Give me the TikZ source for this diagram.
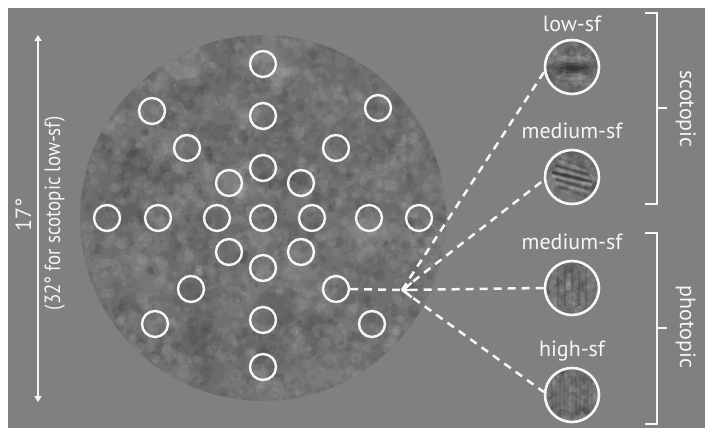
\documentclass[tikz,border=0pt]{standalone}
\usepackage{fontspec}
\setmainfont{PT Sans}
\usetikzlibrary{arrows.meta}
\definecolor{panelgray}{RGB}{128,128,128}
\definecolor{discgray}{RGB}{112,112,112}
\definecolor{inkwhite}{RGB}{246,246,246}
\begin{document}
\begin{tikzpicture}[x=1pt,y=-1pt,
    ring/.style={circle,draw=inkwhite,line width=2.4pt,minimum size=26pt,inner sep=0pt},
    patch/.style={circle,draw=inkwhite,line width=2.6pt,minimum size=54pt,inner sep=0pt},
    patchname/.style={text=inkwhite,font=\fontsize{22}{26}\selectfont,anchor=base,inner sep=0pt},
    sidetext/.style={text=inkwhite,font=\fontsize{22}{26}\selectfont,anchor=base,inner sep=0pt},
    dashes/.style={inkwhite,line width=2.5pt,dash pattern=on 8pt off 6pt},
    brace/.style={inkwhite,line width=2.5pt}]
    \useasboundingbox (0,0) rectangle (714,438);
    \fill[white] (0,0) rectangle (714,438);
    \fill[panelgray] (8,8) rectangle (705,428);
    \fill[discgray] (263,218) circle[radius=183pt];
    \begin{scope}
        \clip (263,218) circle[radius=183pt];
        \pgfmathsetseed{11}
        \foreach \i in {1,...,260}{
            \pgfmathsetmacro\ba{360*rnd}
            \pgfmathsetmacro\bd{195*sqrt(rnd)}
            \pgfmathsetmacro\br{8+14*rnd}
            \ifodd\i \def\blobcol{black}\else\def\blobcol{white}\fi
            \fill[\blobcol,opacity=0.045]
            ({263+\bd*cos(\ba)},{218+\bd*sin(\ba)}) circle[radius=\br pt]
            ;
        }
        \foreach \i in {1,...,1800}{
            \pgfmathsetmacro\ba{360*rnd}
            \pgfmathsetmacro\bd{188*sqrt(rnd)}
            \pgfmathsetmacro\br{1.5+5*rnd}
            \ifodd\i \def\blobcol{black}\else\def\blobcol{white}\fi
            \fill[\blobcol,opacity=0.06]
            ({263+\bd*cos(\ba)},{218+\bd*sin(\ba)}) circle[radius=\br pt]
            ;
        }
    \end{scope}
    \foreach \n/\x/\y in {a/263/64,b/152/111,c/378/108,d/263/116,e/187/148,f/336/148,
        g/263/168,h/229/183,i/301/183,j/107/218,k/158/218,l/217/218,m/263/218,
        n/312/218,o/369/218,p/419/218,q/229/252,r/301/252,s/263/268,t/191/289,
        u/336/289,v/155/324,w/263/320,x/372/324,y/263/367}
        \node[ring] (r\n) at (\x,\y) {};
    \coordinate (c1) at (572,67);
    \coordinate (c2) at (572,177);
    \coordinate (c3) at (572,288);
    \coordinate (c4) at (572,395);
    \foreach \c in {c1,c2,c3,c4}{
        \begin{scope}[shift={(\c)}]
            \clip (0,0) circle[radius=26pt];
            \fill[discgray] (0,0) circle[radius=26pt];
            \foreach \j in {1,...,120}{
                \pgfmathsetmacro\ba{360*rnd}
                \pgfmathsetmacro\bd{27*sqrt(rnd)}
                \pgfmathsetmacro\br{1.5+3*rnd}
                \ifodd\j \def\blobcol{black}\else\def\blobcol{white}\fi
                \fill[\blobcol,opacity=0.07]
                ({\bd*cos(\ba)},{\bd*sin(\ba)}) circle[radius=\br pt]
                ;
            }
        \end{scope}
    }
    \begin{scope}[shift={(c1)}]
        \clip (0,0) circle[radius=26pt];
        \fill[black,opacity=.1] (0,0) ellipse[x radius=6pt,y radius=22pt];
        \fill[black,opacity=.12] (0,1) ellipse[x radius=22pt,y radius=9pt];
        \fill[black,opacity=.2] (0,1) ellipse[x radius=18pt,y radius=5pt];
        \fill[black,opacity=.25] (0,1) ellipse[x radius=13pt,y radius=2.5pt];
        \fill[white,opacity=.12] (0,-8) ellipse[x radius=16pt,y radius=3.5pt];
        \fill[white,opacity=.12] (0,10) ellipse[x radius=16pt,y radius=3.5pt];
    \end{scope}
    \begin{scope}[shift={(c2)}]
        \clip (0,0) circle[radius=26pt];
        \foreach \k/\op in {-2/.14,-1/.28,0/.4,1/.28,2/.14}{
            \draw[black,opacity=\op,line width=2.6pt,line cap=round]
            ({-19+3*abs(\k)},{\k*7-4.5}) -- ({19-3*abs(\k)},{\k*7+4.5})
            ;
            \draw[white,opacity=\op*.5,line width=2.2pt,line cap=round]
            ({-19+3*abs(\k)},{\k*7-1}) -- ({19-3*abs(\k)},{\k*7+8})
            ;
        }
    \end{scope}
    \begin{scope}[shift={(c3)}]
        \clip (0,0) circle[radius=26pt];
        \foreach \k in {-2,...,2}
            \draw[black,opacity=.12,line width=2.5pt] (\k*7,-18) -- (\k*7,18);
    \end{scope}
    \begin{scope}[shift={(c4)}]
        \clip (0,0) circle[radius=26pt];
        \foreach \k in {-5,...,5}
            \draw[black,opacity=.07,line width=1.5pt] (\k*4,-20) -- (\k*4,20);
    \end{scope}
    \node[patch] (p1) at (c1) {};
    \node[patch] (p2) at (c2) {};
    \node[patch] (p3) at (c3) {};
    \node[patch] (p4) at (c4) {};
    \node[patchname] (n1) at (572,32) {low-sf};
    \node[patchname] (n2) at (572,139) {medium-sf};
    \node[patchname] (n3) at (572,250) {medium-sf};
    \node[patchname] (n4) at (572,356) {high-sf};
    \coordinate (tip) at (402,290);
    \coordinate (barb) at (412,290);
    \draw[dashes]
    (ru.east) -- (tip)
    ;
    \draw[dashes]
    (p3.west) -- (tip)
    ;
    \draw[inkwhite,line width=2.3pt,-{Straight Barb[length=8pt,width=15pt]}]
    (barb) -- (tip)
    ;
    \draw[dashes]
    (tip) -- (p1.190)
    ;
    \draw[dashes]
    (tip) -- (p2.186)
    ;
    \draw[dashes]
    (tip) -- (p4.174)
    ;
    \draw[brace]
    (645,13) -- (657,13) -- (657,204) -- (645,204)
    ;
    \draw[brace]
    (657,108) -- (667,108)
    ;
    \node[sidetext,rotate=-90] (scot) at (680,109) {scotopic};
    \draw[brace]
    (645,233) -- (657,233) -- (657,424) -- (645,424)
    ;
    \draw[brace]
    (657,328) -- (667,328)
    ;
    \node[sidetext,rotate=-90] (phot) at (680,327) {photopic};
    \coordinate (atop) at (38,35);
    \coordinate (abot) at (38,402);
    \draw[inkwhite,line width=2pt,{Triangle[length=6pt,width=7pt]}-{Triangle[length=6pt,width=7pt]}]
    (atop) -- (abot)
    ;
    \node[sidetext,rotate=90] (deg) at (31,215) {17°};
    \node[sidetext,rotate=90] (alt) at (60,213) {\scalebox{0.86}[1]{(32° for scotopic low-sf)}};
\end{tikzpicture}
\end{document}
